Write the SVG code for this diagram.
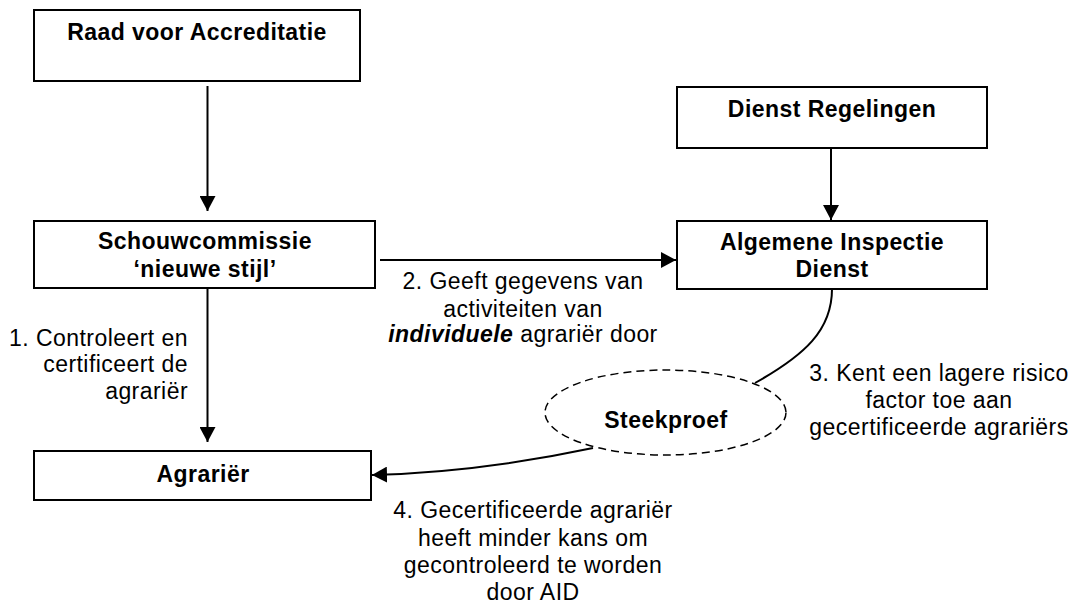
<svg xmlns="http://www.w3.org/2000/svg" width="1074" height="606" viewBox="0 0 1074 606">
<style>
.box{fill:#fff;stroke:#000;stroke-width:2}
.t{font-family:"Liberation Sans",Arial,sans-serif;font-size:23px;fill:#000;letter-spacing:0.45px}
.b{font-weight:bold}
.c{text-anchor:middle}
.r{text-anchor:end}
.ln{fill:none;stroke:#000;stroke-width:2}
</style>
<defs>
<marker id="ah" markerWidth="16" markerHeight="16" refX="15" refY="8" orient="auto" markerUnits="userSpaceOnUse">
<path d="M0,0 L15,8 L0,16 z" fill="#000"/>
</marker>
</defs>
<rect width="1074" height="606" fill="#fff"/>
<g id="connectors">
<line class="ln" x1="207.5" y1="86" x2="207.5" y2="211" marker-end="url(#ah)"/>
<line class="ln" x1="831" y1="148" x2="831" y2="220" marker-end="url(#ah)"/>
<line class="ln" x1="380" y1="260" x2="676" y2="260" marker-end="url(#ah)"/>
<line class="ln" x1="207.5" y1="289" x2="207.5" y2="442" marker-end="url(#ah)"/>
<path class="ln" d="M832,289 C832,330 805,355 755,383"/>
<path class="ln" d="M593,448 Q480,472 372,475" marker-end="url(#ah)"/>
<text class="t c" x="523" y="289">2. Geeft gegevens van</text>
<text class="t c" x="523" y="316.5">activiteiten van</text>
<text class="t c" x="523" y="342"><tspan class="b" font-style="italic">individuele</tspan> agrariër door</text>
<text class="t r" x="188" y="346">1. Controleert en</text>
<text class="t r" x="188" y="372">certificeert de</text>
<text class="t r" x="188" y="399">agrariër</text>
<text class="t c" x="939" y="381">3. Kent een lagere risico</text>
<text class="t c" x="939" y="408">factor toe aan</text>
<text class="t c" x="939" y="435">gecertificeerde agrariërs</text>
<text class="t c" x="533" y="518">4. Gecertificeerde agrariër</text>
<text class="t c" x="533" y="546">heeft minder kans om</text>
<text class="t c" x="533" y="573">gecontroleerd te worden</text>
<text class="t c" x="533" y="600">door AID</text>
</g>
<g id="raad">
<rect class="box" x="34" y="10" width="326" height="71"/>
<text class="t b c" x="197" y="40">Raad voor Accreditatie</text>
</g>
<g id="schouwcommissie">
<rect class="box" x="34" y="221" width="341" height="67"/>
<text class="t b c" x="205" y="249">Schouwcommissie</text>
<text class="t b c" x="205" y="277">‘nieuwe stijl’</text>
</g>
<g id="dienst-regelingen">
<rect class="box" x="677" y="87" width="310" height="61"/>
<text class="t b c" x="832" y="117">Dienst Regelingen</text>
</g>
<g id="aid">
<rect class="box" x="677" y="221" width="310" height="68"/>
<text class="t b c" x="832" y="250">Algemene Inspectie</text>
<text class="t b c" x="832" y="277">Dienst</text>
</g>
<g id="steekproef">
<ellipse cx="665.5" cy="412.5" rx="120.5" ry="42.5" fill="none" stroke="#000" stroke-width="1.5" stroke-dasharray="8 5"/>
<text class="t b c" x="666" y="428" font-size="25.5">Steekproef</text>
</g>
<g id="agrarier">
<rect class="box" x="34" y="451" width="337" height="49"/>
<text class="t b c" x="203" y="482">Agrariër</text>
</g>
</svg>
